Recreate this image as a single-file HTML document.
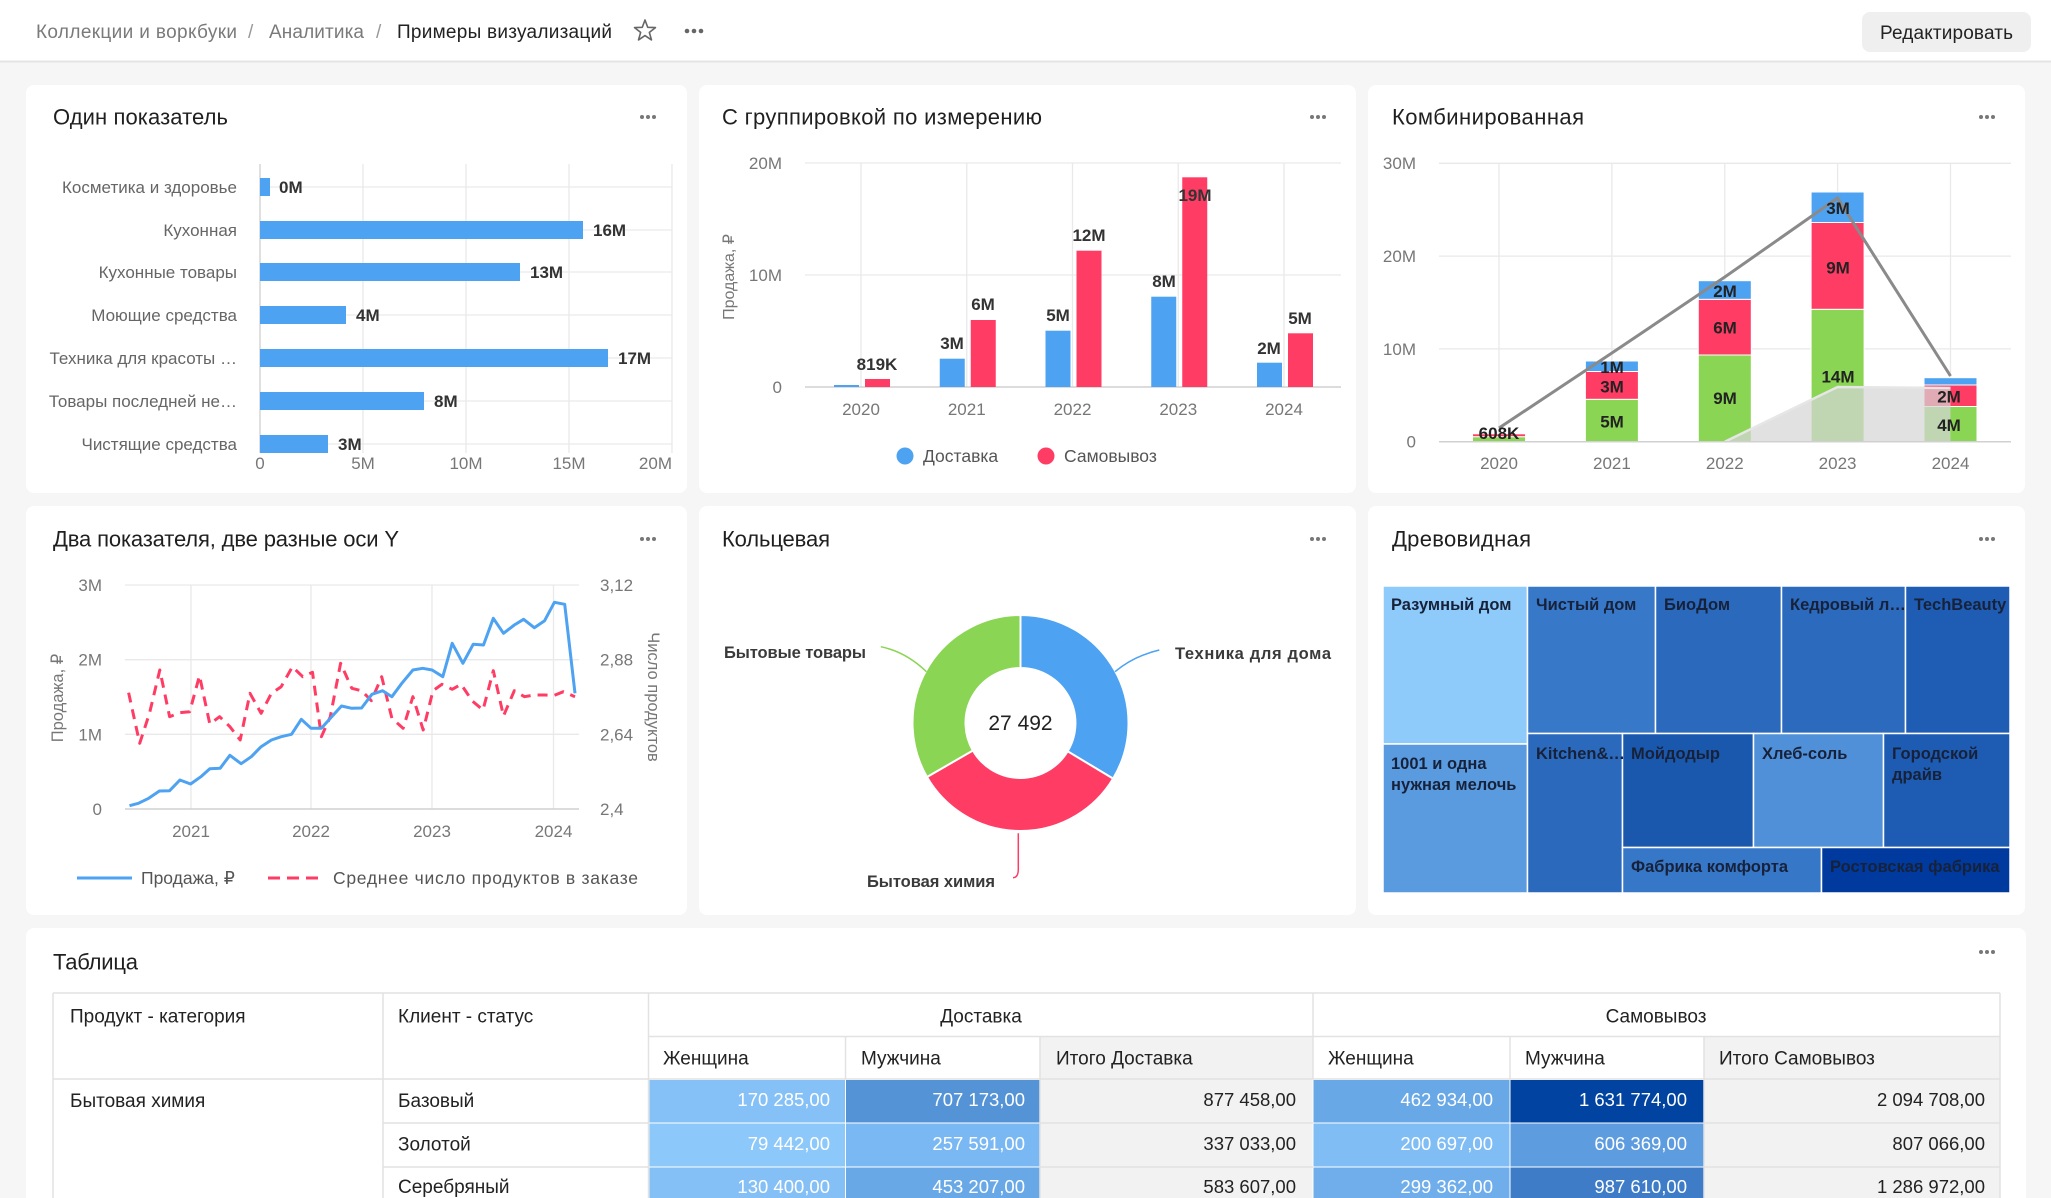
<!DOCTYPE html>
<html><head><meta charset="utf-8"><style>
html,body{margin:0;padding:0;background:#f6f6f6;}
svg{display:block;font-family:"Liberation Sans","DejaVu Sans",sans-serif;}
</style></head><body>
<svg width="2051" height="1198" viewBox="0 0 2051 1198" xmlns="http://www.w3.org/2000/svg">
<rect x="0" y="0" width="2051" height="1198" fill="#f6f6f6"/>
<!-- top bar -->
<rect x="0" y="0" width="2051" height="61" fill="#fff"/>
<line x1="0" y1="61.5" x2="2051" y2="61.5" stroke="#e4e4e4" stroke-width="2"/>
<g font-size="19">
<text x="36" y="38" fill="#7a7a7a" textLength="201">Коллекции и воркбуки</text>
<text x="248" y="38" fill="#999">/</text>
<text x="269" y="38" fill="#7a7a7a" textLength="95">Аналитика</text>
<text x="376" y="38" fill="#999">/</text>
<text x="397" y="38" fill="#222" textLength="215">Примеры визуализаций</text>
</g>
<polygon points="645,20 647.7,27.28 655.46,27.6 649.37,32.42 651.47,39.9 645,35.6 638.53,39.9 640.63,32.42 634.54,27.6 642.3,27.28" fill="none" stroke="#666" stroke-width="1.6" stroke-linejoin="round"/>
<g fill="#666"><circle cx="687" cy="31" r="2.3"/><circle cx="694" cy="31" r="2.3"/><circle cx="701" cy="31" r="2.3"/></g>
<rect x="1862" y="12" width="169" height="40" rx="8" fill="#efefef"/>
<text x="1946.5" y="39" font-size="19" fill="#222" text-anchor="middle" textLength="133">Редактировать</text>

<!-- cards -->
<g fill="#fff">
<rect x="26" y="85" width="661" height="408" rx="8"/>
<rect x="699" y="85" width="657" height="408" rx="8"/>
<rect x="1368" y="85" width="657" height="408" rx="8"/>
<rect x="26" y="506" width="661" height="409" rx="8"/>
<rect x="699" y="506" width="657" height="409" rx="8"/>
<rect x="1368" y="506" width="657" height="409" rx="8"/>
<rect x="26" y="928" width="2000" height="290" rx="8"/>
</g>
<!-- titles -->
<g font-size="22" fill="#1f1f1f">
<text x="53" y="124.5" textLength="175">Один показатель</text>
<text x="722" y="124.5" textLength="320">С группировкой по измерению</text>
<text x="1392" y="124.5" textLength="192">Комбинированная</text>
<text x="53" y="546.5" textLength="346">Два показателя, две разные оси Y</text>
<text x="722" y="546.5" textLength="108">Кольцевая</text>
<text x="1392" y="546.5" textLength="139">Древовидная</text>
<text x="53" y="969.5" textLength="85">Таблица</text>
</g>
<g fill="#777">
<circle cx="642" cy="117" r="2"/><circle cx="648" cy="117" r="2"/><circle cx="654" cy="117" r="2"/>
<circle cx="1312" cy="117" r="2"/><circle cx="1318" cy="117" r="2"/><circle cx="1324" cy="117" r="2"/>
<circle cx="1981" cy="117" r="2"/><circle cx="1987" cy="117" r="2"/><circle cx="1993" cy="117" r="2"/>
<circle cx="642" cy="539" r="2"/><circle cx="648" cy="539" r="2"/><circle cx="654" cy="539" r="2"/>
<circle cx="1312" cy="539" r="2"/><circle cx="1318" cy="539" r="2"/><circle cx="1324" cy="539" r="2"/>
<circle cx="1981" cy="539" r="2"/><circle cx="1987" cy="539" r="2"/><circle cx="1993" cy="539" r="2"/>
<circle cx="1981" cy="952" r="2"/><circle cx="1987" cy="952" r="2"/><circle cx="1993" cy="952" r="2"/>
</g>

<!-- CHART 1: horizontal bars -->
<g stroke="#e9e9e9" stroke-width="1.3">
<line x1="363" y1="164" x2="363" y2="453"/><line x1="466" y1="164" x2="466" y2="453"/>
<line x1="569" y1="164" x2="569" y2="453"/><line x1="672" y1="164" x2="672" y2="453"/>
<line x1="260" y1="187" x2="672" y2="187"/><line x1="260" y1="230" x2="672" y2="230"/>
<line x1="260" y1="272" x2="672" y2="272"/><line x1="260" y1="315" x2="672" y2="315"/>
<line x1="260" y1="358" x2="672" y2="358"/><line x1="260" y1="401" x2="672" y2="401"/>
<line x1="260" y1="444" x2="672" y2="444"/>
</g>
<line x1="260" y1="164" x2="260" y2="453" stroke="#d0d0d0" stroke-width="1.3"/>
<g fill="#4da2f1">
<rect x="260" y="178" width="10" height="18"/>
<rect x="260" y="221" width="323" height="18"/>
<rect x="260" y="263" width="260" height="18"/>
<rect x="260" y="306" width="86" height="18"/>
<rect x="260" y="349" width="348" height="18"/>
<rect x="260" y="392" width="164" height="18"/>
<rect x="260" y="435" width="68" height="18"/>
</g>
<g font-size="17" fill="#666" text-anchor="end">
<text x="237" y="193">Косметика и здоровье</text>
<text x="237" y="236">Кухонная</text>
<text x="237" y="278">Кухонные товары</text>
<text x="237" y="321">Моющие средства</text>
<text x="237" y="364">Техника для красоты …</text>
<text x="237" y="407">Товары последней не…</text>
<text x="237" y="450">Чистящие средства</text>
</g>
<g font-size="17" font-weight="bold" fill="#333">
<text x="279" y="193">0M</text>
<text x="593" y="236">16M</text>
<text x="530" y="278">13M</text>
<text x="356" y="321">4M</text>
<text x="618" y="364">17M</text>
<text x="434" y="407">8M</text>
<text x="338" y="450">3M</text>
</g>
<g font-size="17" fill="#777" text-anchor="middle">
<text x="260" y="469">0</text><text x="363" y="469">5M</text><text x="466" y="469">10M</text>
<text x="569" y="469">15M</text><text x="672" y="469" text-anchor="end">20M</text>
</g>

<!-- CHART 2: grouped bars -->
<g stroke="#e9e9e9" stroke-width="1.3">
<line x1="805" y1="163" x2="1341" y2="163"/><line x1="805" y1="275" x2="1341" y2="275"/>
<line x1="861" y1="163" x2="861" y2="387"/><line x1="966.75" y1="163" x2="966.75" y2="387"/>
<line x1="1072.5" y1="163" x2="1072.5" y2="387"/><line x1="1178.25" y1="163" x2="1178.25" y2="387"/>
<line x1="1284" y1="163" x2="1284" y2="387"/>
</g>
<line x1="805" y1="387" x2="1341" y2="387" stroke="#d0d0d0" stroke-width="1.5"/>
<g fill="#4da2f1">
<rect x="834" y="385" width="25" height="2"/>
<rect x="939.75" y="358.7" width="25" height="28.3"/>
<rect x="1045.5" y="330.7" width="25" height="56.3"/>
<rect x="1151.25" y="296.7" width="25" height="90.3"/>
<rect x="1257" y="362.7" width="25" height="24.3"/>
</g>
<g fill="#ff3d64">
<rect x="865" y="379" width="25" height="8"/>
<rect x="970.75" y="320" width="25" height="67"/>
<rect x="1076.5" y="250.7" width="25" height="136.3"/>
<rect x="1182.25" y="177.3" width="25" height="209.7"/>
<rect x="1288" y="333.3" width="25" height="53.7"/>
</g>
<g font-size="17" font-weight="bold" fill="#333" text-anchor="middle">
<text x="877" y="370">819K</text>
<text x="952" y="349">3M</text>
<text x="983" y="310">6M</text>
<text x="1058" y="321">5M</text>
<text x="1089" y="241">12M</text>
<text x="1164" y="287">8M</text>
<text x="1195" y="201">19M</text>
<text x="1269" y="354">2M</text>
<text x="1300" y="324">5M</text>
</g>
<g font-size="17" fill="#777">
<text x="782" y="169" text-anchor="end">20M</text>
<text x="782" y="281" text-anchor="end">10M</text>
<text x="782" y="393" text-anchor="end">0</text>
<g text-anchor="middle">
<text x="861" y="415">2020</text><text x="966.75" y="415">2021</text><text x="1072.5" y="415">2022</text>
<text x="1178.25" y="415">2023</text><text x="1284" y="415">2024</text>
</g>
<text transform="translate(734,277) rotate(-90)" text-anchor="middle" font-size="16">Продажа, ₽</text>
</g>
<circle cx="905" cy="456" r="8.5" fill="#4da2f1"/>
<circle cx="1046" cy="456" r="8.5" fill="#ff3d64"/>
<g font-size="17.5" fill="#555">
<text x="923" y="462">Доставка</text>
<text x="1064" y="462">Самовывоз</text>
</g>

<!-- CHART 3: combined -->
<g stroke="#e9e9e9" stroke-width="1.3">
<line x1="1439" y1="163.3" x2="2011" y2="163.3"/><line x1="1439" y1="256.1" x2="2011" y2="256.1"/>
<line x1="1439" y1="348.9" x2="2011" y2="348.9"/>
<line x1="1499" y1="163" x2="1499" y2="441.7"/><line x1="1611.9" y1="163" x2="1611.9" y2="441.7"/>
<line x1="1724.8" y1="163" x2="1724.8" y2="441.7"/><line x1="1837.6" y1="163" x2="1837.6" y2="441.7"/>
<line x1="1950.5" y1="163" x2="1950.5" y2="441.7"/>
</g>
<g stroke="#fff" stroke-width="1">
<rect x="1472.5" y="436.7" width="53" height="5" fill="#8ad554"/>
<rect x="1472.5" y="433.8" width="53" height="2.9" fill="#ff3d64"/>
<rect x="1585.4" y="399.3" width="53" height="42.4" fill="#8ad554"/>
<rect x="1585.4" y="371.5" width="53" height="27.8" fill="#ff3d64"/>
<rect x="1585.4" y="361" width="53" height="10.5" fill="#4da2f1"/>
<rect x="1698.3" y="355" width="53" height="86.7" fill="#8ad554"/>
<rect x="1698.3" y="299.3" width="53" height="55.7" fill="#ff3d64"/>
<rect x="1698.3" y="280.7" width="53" height="18.6" fill="#4da2f1"/>
<rect x="1811.1" y="309.3" width="53" height="132.4" fill="#8ad554"/>
<rect x="1811.1" y="222.5" width="53" height="86.8" fill="#ff3d64"/>
<rect x="1811.1" y="192" width="53" height="30.5" fill="#4da2f1"/>
<rect x="1924" y="406.5" width="53" height="35.2" fill="#8ad554"/>
<rect x="1924" y="385" width="53" height="21.5" fill="#ff3d64"/>
<rect x="1924" y="377.7" width="53" height="7.3" fill="#4da2f1"/>
</g>
<polygon points="1499,441.7 1611.9,441.7 1724.8,441.7 1837.6,387 1950.5,388 1950.5,441.7" fill="#d6d6d6" fill-opacity="0.72"/>
<polyline points="1724.8,441.7 1837.6,387 1950.5,388" fill="none" stroke="#e6e6e6" stroke-width="2.5"/>
<line x1="1439" y1="441.7" x2="2011" y2="441.7" stroke="#d0d0d0" stroke-width="1.5"/>
<polyline points="1499,428 1611.9,353 1724.8,277 1837.6,198 1950.5,376" fill="none" stroke="#8a8a8a" stroke-width="3" stroke-linejoin="round"/>
<g font-size="17" font-weight="bold" fill="#222" text-anchor="middle">
<text x="1499" y="439">608K</text>
<text x="1612" y="427.5">5M</text><text x="1612" y="392.5">3M</text><text x="1612" y="373">1M</text>
<text x="1725" y="404">9M</text><text x="1725" y="333.5">6M</text><text x="1725" y="297">2M</text>
<text x="1838" y="382.5">14M</text><text x="1838" y="273.5">9M</text><text x="1838" y="214">3M</text>
<text x="1949" y="402.5">2M</text><text x="1949" y="431">4M</text>
</g>
<g font-size="17" fill="#777">
<text x="1416" y="169" text-anchor="end">30M</text>
<text x="1416" y="262" text-anchor="end">20M</text>
<text x="1416" y="355" text-anchor="end">10M</text>
<text x="1416" y="447.7" text-anchor="end">0</text>
<g text-anchor="middle">
<text x="1499" y="469">2020</text><text x="1611.9" y="469">2021</text><text x="1724.8" y="469">2022</text>
<text x="1837.6" y="469">2023</text><text x="1950.5" y="469">2024</text>
</g>
</g>

<!-- CHART 4: two axes -->
<g stroke="#e9e9e9" stroke-width="1.3">
<line x1="125" y1="585" x2="579" y2="585"/><line x1="125" y1="659.7" x2="579" y2="659.7"/>
<line x1="125" y1="734.3" x2="579" y2="734.3"/>
<line x1="191" y1="585" x2="191" y2="809"/><line x1="311" y1="585" x2="311" y2="809"/>
<line x1="432" y1="585" x2="432" y2="809"/><line x1="553.5" y1="585" x2="553.5" y2="809"/>
</g>
<line x1="125" y1="809" x2="579" y2="809" stroke="#d0d0d0" stroke-width="1.5"/>
<polyline fill="none" stroke="#ff3d64" stroke-width="3" stroke-dasharray="10 7" stroke-linejoin="round" points="128.6,692.7 139.7,743.3 149.5,713.3 159.8,670 169.6,716.7 179.9,712.7 189.7,711.7 199.5,675.7 209.8,724 219.6,716.7 229.9,726.7 240.2,740 250,693.3 261.1,713.3 271.4,693.3 281.2,686.7 292.4,666.7 302.7,676.7 312.5,672.3 321.4,736.7 330.3,716.7 340.6,663.3 351.8,688.3 361.6,690.7 371.4,700.7 381.7,676.7 391.9,718.3 403.1,728.3 412.9,696.7 423.2,730 433,690.7 441.9,684.3 452.2,689.3 461.1,684.3 472.3,701 483,710 493.3,670.7 503.5,716 514.3,690.7 524.5,696.7 534.3,695 544.6,695 554.4,695.3 563.4,691.7 575,696.7"/>
<polyline fill="none" stroke="#4da2f1" stroke-width="3" stroke-linejoin="round" points="129.5,805.7 138.4,803.3 148.7,798.3 159.4,791 169.6,790.7 179.9,780 190.6,784 200.9,776.7 209.8,768.7 220.1,768.3 229.9,755.3 241.1,763.7 251.3,756.7 261.1,746.7 271.4,740 281.2,736.7 291.5,734.3 301.3,719.3 311.1,728.3 321.4,728.3 331.7,716.7 341.5,706 351.8,708.3 361.6,708 371.9,694.3 382.6,690.7 391.9,696.7 401.8,683.3 412.9,670 422.7,668.3 432.1,670 442.8,676.7 452.2,643.3 462.9,663.3 473.2,644.3 483.5,645 493.3,618.3 503.5,633.3 514.3,625 523.6,619.3 534.3,627.7 544.6,620.7 554.4,602.3 564.7,604.3 575,693.3"/>
<g font-size="17" fill="#777">
<g text-anchor="end">
<text x="102" y="591">3M</text><text x="102" y="665.7">2M</text><text x="102" y="740.3">1M</text><text x="102" y="815">0</text>
</g>
<text x="600" y="591">3,12</text><text x="600" y="665.7">2,88</text><text x="600" y="740.3">2,64</text><text x="600" y="815">2,4</text>
<g text-anchor="middle">
<text x="191" y="837">2021</text><text x="311" y="837">2022</text><text x="432" y="837">2023</text><text x="553.5" y="837">2024</text>
</g>
<text transform="translate(63,698) rotate(-90)" text-anchor="middle" font-size="16.5">Продажа, ₽</text>
<text transform="translate(648,697) rotate(90)" text-anchor="middle" font-size="16.5">Число продуктов</text>
</g>
<line x1="77" y1="878" x2="132" y2="878" stroke="#4da2f1" stroke-width="3"/>
<line x1="268" y1="878" x2="321" y2="878" stroke="#ff3d64" stroke-width="3" stroke-dasharray="12 7"/>
<g font-size="17.5" fill="#555">
<text x="141" y="884">Продажа, ₽</text>
<text x="333" y="884" textLength="305">Среднее число продуктов в заказе</text>
</g>

<!-- CHART 5: donut -->
<g stroke="#fff" stroke-width="2">
<path d="M1020.5 615 A108 108 0 0 1 1113.1 778.6 L1067.6 751.3 A55 55 0 0 0 1020.5 668 Z" fill="#4da2f1"/>
<path d="M1113.1 778.6 A108 108 0 0 1 926.97 777 L972.87 750.5 A55 55 0 0 0 1067.6 751.3 Z" fill="#ff3d64"/>
<path d="M926.97 777 A108 108 0 0 1 1020.5 615 L1020.5 668 A55 55 0 0 0 972.87 750.5 Z" fill="#8ad554"/>
</g>
<path d="M880.8 646.7 Q906 652 926.4 671.7" fill="none" stroke="#8ad554" stroke-width="1.5"/>
<path d="M1159.3 650 Q1134 656 1115 671.7" fill="none" stroke="#4da2f1" stroke-width="1.5"/>
<path d="M1018.3 833.3 L1018.3 870 Q1018 877.7 1013 877.7" fill="none" stroke="#ff3d64" stroke-width="1.5"/>
<text x="1020.5" y="730" font-size="21" fill="#222" text-anchor="middle">27 492</text>
<g font-size="16.5" font-weight="bold" fill="#3a3a3a">
<text x="724" y="658" textLength="142">Бытовые товары</text>
<text x="1175" y="659" textLength="156">Техника для дома</text>
<text x="867" y="887" textLength="128">Бытовая химия</text>
</g>

<!-- CHART 6: treemap -->
<g stroke="#fff" stroke-width="1.5">
<rect x="1383" y="586" width="144.5" height="158" fill="#8ecbfb"/>
<rect x="1383" y="744" width="144.5" height="149" fill="#5a9be0"/>
<rect x="1527.5" y="586" width="128" height="147.5" fill="#3878c8"/>
<rect x="1655.5" y="586" width="126" height="147.5" fill="#2b69bc"/>
<rect x="1781.5" y="586" width="124" height="147.5" fill="#2c6abd"/>
<rect x="1905.5" y="586" width="104.5" height="147.5" fill="#1f5db5"/>
<rect x="1527.5" y="733.5" width="95" height="159.5" fill="#2b69bc"/>
<rect x="1622.5" y="733.5" width="131" height="114" fill="#1a58ad"/>
<rect x="1753.5" y="733.5" width="130" height="114" fill="#5090d8"/>
<rect x="1883.5" y="733.5" width="126.5" height="114" fill="#1e5bb2"/>
<rect x="1622.5" y="847.5" width="199" height="45.5" fill="#3777c8"/>
<rect x="1821.5" y="847.5" width="188.5" height="45.5" fill="#003a9e"/>
</g>
<g font-size="16.5" font-weight="bold" fill="#17223a">
<text x="1391" y="610">Разумный дом</text>
<text x="1536" y="610">Чистый дом</text>
<text x="1664" y="610">БиоДом</text>
<text x="1790" y="610">Кедровый л…</text>
<text x="1914" y="610">TechBeauty</text>
<text x="1391" y="769">1001 и одна</text>
<text x="1391" y="790">нужная мелочь</text>
<text x="1536" y="759">Kitchen&amp;…</text>
<text x="1631" y="759">Мойдодыр</text>
<text x="1762" y="759">Хлеб-соль</text>
<text x="1892" y="759">Городской</text>
<text x="1892" y="780">драйв</text>
<text x="1631" y="872">Фабрика комфорта</text>
<text x="1830" y="872">Ростовская фабрика</text>
</g>

<!-- TABLE -->
<rect x="1040" y="1036.5" width="273" height="170" fill="#f2f2f2"/>
<rect x="1704" y="1036.5" width="296" height="170" fill="#f2f2f2"/>
<g stroke="#fff" stroke-width="1">
<rect x="649" y="1079.5" width="196.5" height="43.5" fill="#85c1f7"/>
<rect x="845.5" y="1079.5" width="194.5" height="43.5" fill="#5493d6"/>
<rect x="649" y="1123" width="196.5" height="44" fill="#8dc8fa"/>
<rect x="845.5" y="1123" width="194.5" height="44" fill="#7ab8f3"/>
<rect x="649" y="1167" width="196.5" height="44" fill="#84c0f6"/>
<rect x="845.5" y="1167" width="194.5" height="44" fill="#69a8e6"/>
<rect x="1313" y="1079.5" width="197" height="43.5" fill="#69a8e6"/>
<rect x="1510" y="1079.5" width="194" height="43.5" fill="#0043a0"/>
<rect x="1313" y="1123" width="197" height="44" fill="#80bdf5"/>
<rect x="1510" y="1123" width="194" height="44" fill="#5e9ce0"/>
<rect x="1313" y="1167" width="197" height="44" fill="#70aeeb"/>
<rect x="1510" y="1167" width="194" height="44" fill="#3f7cc8"/>
</g>
<g stroke="#e2e2e2" stroke-width="1.5" fill="none">
<line x1="53" y1="993" x2="2000" y2="993"/>
<line x1="648.5" y1="1036.5" x2="2000" y2="1036.5"/>
<line x1="53" y1="1079" x2="2000" y2="1079"/>
<line x1="383" y1="1123" x2="649" y2="1123"/>
<line x1="1040" y1="1123" x2="1313" y2="1123"/>
<line x1="1704" y1="1123" x2="2000" y2="1123"/>
<line x1="383" y1="1167" x2="649" y2="1167"/>
<line x1="1040" y1="1167" x2="1313" y2="1167"/>
<line x1="1704" y1="1167" x2="2000" y2="1167"/>
<line x1="53" y1="993" x2="53" y2="1198"/>
<line x1="383" y1="993" x2="383" y2="1198"/>
<line x1="648.5" y1="993" x2="648.5" y2="1198"/>
<line x1="1313" y1="993" x2="1313" y2="1079"/>
<line x1="2000" y1="993" x2="2000" y2="1198"/>
<line x1="845.5" y1="1036.5" x2="845.5" y2="1079"/>
<line x1="1040" y1="1036.5" x2="1040" y2="1198"/>
<line x1="1510" y1="1036.5" x2="1510" y2="1079"/>
<line x1="1704" y1="1036.5" x2="1704" y2="1198"/>
</g>
<g font-size="19" fill="#222">
<text x="70" y="1022.5">Продукт - категория</text>
<text x="398" y="1022.5">Клиент - статус</text>
<text x="981" y="1022.5" text-anchor="middle">Доставка</text>
<text x="1656" y="1022.5" text-anchor="middle">Самовывоз</text>
<text x="663" y="1064.5">Женщина</text>
<text x="861" y="1064.5">Мужчина</text>
<text x="1056" y="1064.5">Итого Доставка</text>
<text x="1328" y="1064.5">Женщина</text>
<text x="1525" y="1064.5">Мужчина</text>
<text x="1719" y="1064.5">Итого Самовывоз</text>
<text x="70" y="1107">Бытовая химия</text>
<text x="398" y="1107">Базовый</text>
<text x="398" y="1150.5">Золотой</text>
<text x="398" y="1193">Серебряный</text>
</g>
<g font-size="18.5" text-anchor="end">
<g fill="#fff">
<text x="830" y="1106">170 285,00</text><text x="1025" y="1106">707 173,00</text>
<text x="1493" y="1106">462 934,00</text><text x="1687" y="1106">1 631 774,00</text>
<text x="830" y="1150">79 442,00</text><text x="1025" y="1150">257 591,00</text>
<text x="1493" y="1150">200 697,00</text><text x="1687" y="1150">606 369,00</text>
<text x="830" y="1193">130 400,00</text><text x="1025" y="1193">453 207,00</text>
<text x="1493" y="1193">299 362,00</text><text x="1687" y="1193">987 610,00</text>
</g>
<g fill="#222">
<text x="1296" y="1106">877 458,00</text><text x="1985" y="1106">2 094 708,00</text>
<text x="1296" y="1150">337 033,00</text><text x="1985" y="1150">807 066,00</text>
<text x="1296" y="1193">583 607,00</text><text x="1985" y="1193">1 286 972,00</text>
</g>
</g>
</svg>
</body></html>
